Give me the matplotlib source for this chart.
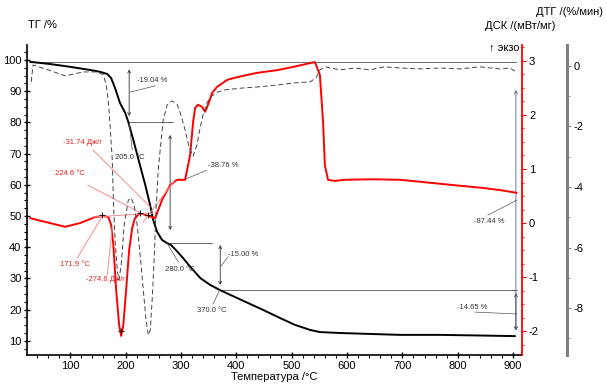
import matplotlib
matplotlib.use('Agg')
import matplotlib.pyplot as plt
from matplotlib.ticker import MultipleLocator

plt.rcParams['font.family'] = ['Liberation Sans', 'DejaVu Sans']
plt.rcParams['axes.unicode_minus'] = False

# TG curve, %
tg_T = [28, 64, 100, 136, 154, 167, 174, 181, 190, 199.5, 205, 214, 226, 235.5, 244.4, 250, 257, 266,
        275, 282, 291, 304, 317, 335, 353, 370, 398, 425, 452, 479, 506, 533, 551, 587, 641, 696, 768, 840, 903]
tg_v = [99.4, 98.7, 97.8, 96.8, 96.2, 95.5, 94.2, 91.0, 86.2, 83.0, 80.1, 74.4, 66.3, 60.0, 53.5, 48.7, 44.9, 42.3,
        41.3, 40.7, 39.1, 36.5, 33.7, 30.1, 27.9, 26.3, 24.0, 21.8, 19.6, 17.3, 15.1, 13.5, 12.8, 12.5, 12.2, 11.9, 11.9, 11.7, 11.5]

# DSC curve, mW/mg
dsc_T = [28, 55, 91, 118, 145, 160, 169, 174, 178, 183, 188.4, 192, 196, 201, 206.5, 212, 217, 224.6, 230, 241, 253.4,
         266, 280.5, 293, 307.6, 316.6, 322, 325.6, 331, 338, 343.7, 349, 356.3, 365.3, 383.4, 401.4, 437.5, 473.6,
         502.5, 533, 542, 551, 556.7, 560, 565.7, 578, 596, 647, 696, 755, 804, 845, 876, 906]
dsc_v = [0.09, 0.02, -0.07, 0.0, 0.11, 0.13, 0.11, -0.04, -0.41, -1.24, -1.89, -2.09, -1.89, -1.24, -0.5, -0.09, 0.09, 0.17, 0.17, 0.13, 0.09,
         0.43, 0.70, 0.80, 0.80, 1.26, 1.87, 2.13, 2.19, 2.15, 2.06, 2.19, 2.41, 2.52, 2.65, 2.70, 2.78, 2.83,
         2.89, 2.96, 2.98, 2.74, 1.87, 1.07, 0.80, 0.78, 0.80, 0.81, 0.80, 0.74, 0.69, 0.65, 0.61, 0.56]

# DTG curve, %/min
dtg_T = [29.6, 33, 60, 91, 123, 149, 160, 165, 168.6, 172, 176, 178, 181, 185, 188, 192, 197.5, 205, 210, 215.5, 221,
         226.4, 232, 237, 241, 244.6, 248, 251.6, 255, 259, 262.5, 268, 275, 284, 293, 300, 307.6, 315, 322, 329,
         334.6, 340, 347, 356, 367, 380, 412, 443, 474, 506, 533, 544, 551, 560, 587, 614, 641, 668, 696, 732,
         768, 804, 840, 876, 894, 903]
dtg_v = [-0.53, 0.03, -0.13, -0.33, -0.2, -0.2, -0.3, -0.63, -1.12, -1.95, -3.1, -4.43, -5.75, -6.74, -7.07, -6.6, -5.26, -4.43, -4.36, -4.6, -5.26,
         -6.25, -7.4, -8.4, -8.89, -8.73, -7.74, -6.41, -4.76, -3.44, -2.78, -1.79, -1.29, -1.16, -1.26, -1.62, -2.12, -2.71, -2.98, -2.61,
         -2.05, -1.62, -1.22, -0.99, -0.86, -0.79, -0.73, -0.69, -0.63, -0.56, -0.53, -0.40, -0.13, -0.03, -0.13, -0.07, -0.13, -0.03, -0.07, -0.1,
         -0.07, -0.1, -0.03, -0.1, -0.07, -0.17]

# mass-loss steps: (T of arrow, TG from, TG to)
steps = [(206.5, 97.0, 82.0), (280.5, 76.0, 45.5), (371, 40.7, 27.9), (905, 25.3, 13.3)]
total_arrow = (905, 90.4, 13.3)

fig = plt.figure(figsize=(6.07, 3.84), dpi=100)
ax = fig.add_axes([27/607, 1-355/384, 495/607, 310/384])
ax2 = ax.twinx()
ax3 = ax.twinx()

ax.set_xlim(22, 916)
ax.set_ylim(5.45, 104.8)
ax2.set_ylim(-2.444, 3.296)
ax3.set_ylim(-9.55, 0.69)

for s in ['top', 'right']:
    ax.spines[s].set_visible(False)
for s in ['top', 'left', 'bottom']:
    ax2.spines[s].set_visible(False)
    ax3.spines[s].set_visible(False)
ax.spines['left'].set_linewidth(1.2)
ax.spines['bottom'].set_linewidth(1.2)
ax2.spines['right'].set_color('red')
ax2.spines['right'].set_linewidth(1.3)
ax3.spines['right'].set_position(('axes', 540/495))
ax3.spines['right'].set_color('#808080')
ax3.spines['right'].set_linewidth(2.2)

ax.xaxis.set_major_locator(MultipleLocator(100))
ax.xaxis.set_minor_locator(MultipleLocator(20))
ax.yaxis.set_major_locator(MultipleLocator(10))
ax.yaxis.set_minor_locator(MultipleLocator(2.5))
ax.tick_params(which='major', direction='inout', length=4, width=1, labelsize=8, pad=2)
ax.tick_params(which='minor', direction='out', length=2, width=0.8)
ax2.yaxis.set_major_locator(MultipleLocator(1))
ax2.yaxis.set_minor_locator(MultipleLocator(0.25))
ax2.tick_params(which='both', colors='red', labelcolor='black', labelsize=8, pad=2)
ax2.tick_params(which='major', length=3)
ax2.tick_params(which='minor', length=1.5)
ax3.yaxis.set_major_locator(MultipleLocator(2))
ax3.yaxis.set_minor_locator(MultipleLocator(1))
ax3.tick_params(which='both', colors='#808080', labelcolor='black', labelsize=8, pad=2)
ax3.tick_params(which='major', length=3)
ax3.tick_params(which='minor', length=2)

# reference lines of TG steps
gl = dict(color='#555555', lw=0.6)
ax.plot([27, 905], [99.2, 99.2], **gl)
ax.plot([205, 285], [80.1, 80.1], **gl)
ax.plot([275, 356], [41.3, 41.3], **gl)
ax.plot([370, 907], [26.3, 26.3], **gl)

ap = dict(arrowstyle='<->', lw=0.6, color='#333333', shrinkA=0, shrinkB=0, mutation_scale=5)
for t, a, b in steps:
    ax.annotate('', xy=(t, b), xytext=(t, a), arrowprops=ap)
ap2 = dict(ap, color='#5a5a8c')
ax.annotate('', xy=(total_arrow[0], total_arrow[2]), xytext=(total_arrow[0], total_arrow[1]), arrowprops=ap2)

# curves
ax3.plot(dtg_T, dtg_v, color='#444444', lw=0.7, ls=(0, (5, 3)))
ax.plot(tg_T, tg_v, color='black', lw=1.4)
ax2.plot(dsc_T, dsc_v, color='red', lw=1.4)

# DSC evaluation lines
pl = dict(color='#f08c8c', lw=0.7)
ax2.plot([140, 250], [0.11, 0.18], **pl)
ax2.plot([159.5, 112.6], [0.15, -0.65], **pl)
ax2.plot([167, 176], [-0.96, -0.07], **pl)
ax2.plot([132.5, 226.4], [0.70, 0.19], **pl)
ax2.plot([141.5, 244.4], [1.35, 0.30], **pl)
ax2.plot([231.8, 289.5], [0.02, 0.80], **pl)
ax2.plot([158, 226.6, 241, 192], [0.14, 0.18, 0.15, -2.0], ls='none', marker='+', color='black', ms=4, mew=0.6)

# leader lines for TG labels
ll = dict(color='#555555', lw=0.5)
ax.plot([208.3, 253.4], [89.7, 91.7], **ll)
ax.plot([206.5, 212], [80.1, 71.2], **ll)
ax.plot([304, 347], [61.5, 64.7], **ll)
ax.plot([275, 295], [41.3, 35.3], **ll)
ax.plot([372.5, 385], [34.0, 36.9], **ll)
ax.plot([370, 358], [26.3, 21.8], **ll)
ax.plot([831, 907], [19.2, 18.6], **ll)
ax.plot([854.5, 907], [50.3, 55.1], **ll)

tk = dict(fontsize=5.5, color='#333333', va='center', ha='left')
ax.text(221, 93.3, '-19.04 %', **tk)
ax.text(181, 68.9, '205.0 °C', **tk)
ax.text(349, 66.3, '-38.76 %', **tk)
ax.text(271.5, 33.0, '280.0 °C', **tk)
ax.text(385, 37.5, '-15.00 %', **tk)
ax.text(329.5, 19.6, '370.0 °C', **tk)
ax.text(798.5, 20.8, '-14.65 %', **tk)
ax.text(829, 48.1, '-87.44 %', **tk)
tr = dict(tk, color='#e02020')
ax.text(87, 73.4, '-31.74 Дж/г', **tr)
ax.text(73, 63.5, '224.6 °C', **tr)
ax.text(82, 34.6, '171.9 °C', **tr)
ax.text(129, 29.5, '-274.6 Дж/г', **tr)

fig.text(28/607, 1-25/384, 'ТГ /%', fontsize=8, va='center', ha='left')
fig.text(603/607, 1-12/384, 'ДТГ /(%/мин)', fontsize=8, va='center', ha='right')
fig.text(485/607, 1-26/384, 'ДСК /(мВт/мг)', fontsize=8, va='center', ha='left')
fig.text(489/607, 1-47/384, '↑ экзо', fontsize=8, va='center', ha='left')
fig.text(274/607, 1-377/384, 'Температура /°C', fontsize=8, va='center', ha='center')

fig.savefig('out.png', dpi=100)
